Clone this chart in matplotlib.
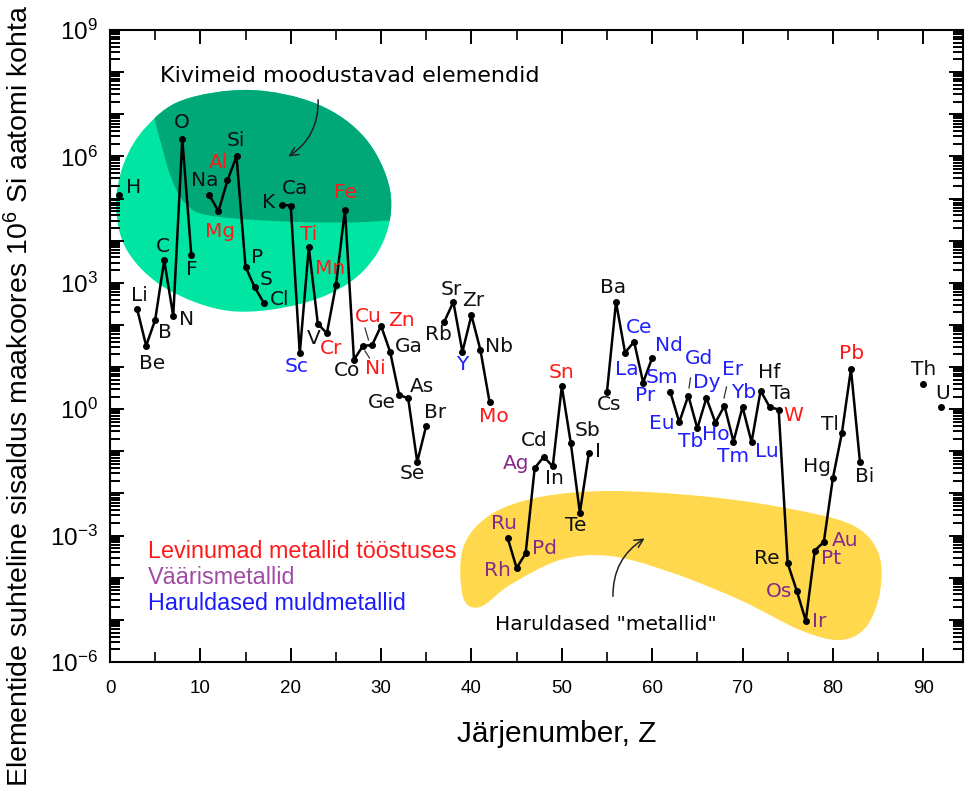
import matplotlib
matplotlib.use("Agg")
import matplotlib.pyplot as plt
import numpy as np
import pandas as pd
from matplotlib.lines import Line2D
from matplotlib.patches import FancyArrowPatch, PathPatch
from matplotlib.path import Path
from matplotlib.ticker import FixedLocator, FuncFormatter, MultipleLocator, NullFormatter

plt.rcParams["mathtext.fontset"] = "custom"
plt.rcParams["mathtext.rm"] = "Liberation Sans"
plt.rcParams["mathtext.it"] = "Liberation Sans:italic"
plt.rcParams["mathtext.bf"] = "Liberation Sans:bold"

# Andmed: järjenumber, sümbol, sisaldus (aatomit 10^6 Si kohta)
z_numbers = [1, 3, 4, 5, 6, 7, 8, 9, 11, 12, 13, 14, 15, 16, 17,
             19, 20, 21, 22, 23, 24, 25, 26, 27, 28, 29, 30, 31, 32, 33, 34, 35,
             37, 38, 39, 40, 41, 42, 44, 45, 46, 47, 48, 49, 50, 51, 52, 53,
             55, 56, 57, 58, 59, 60, 62, 63, 64, 65, 66, 67, 68, 69, 70, 71,
             72, 73, 74, 75, 76, 77, 78, 79, 80, 81, 82, 83, 90, 92]
symbols = ["H", "Li", "Be", "B", "C", "N", "O", "F", "Na", "Mg", "Al", "Si", "P", "S", "Cl",
           "K", "Ca", "Sc", "Ti", "V", "Cr", "Mn", "Fe", "Co", "Ni", "Cu", "Zn", "Ga", "Ge", "As", "Se", "Br",
           "Rb", "Sr", "Y", "Zr", "Nb", "Mo", "Ru", "Rh", "Pd", "Ag", "Cd", "In", "Sn", "Sb", "Te", "I",
           "Cs", "Ba", "La", "Ce", "Pr", "Nd", "Sm", "Eu", "Gd", "Tb", "Dy", "Ho", "Er", "Tm", "Yb", "Lu",
           "Hf", "Ta", "W", "Re", "Os", "Ir", "Pt", "Au", "Hg", "Tl", "Pb", "Bi", "Th", "U"]
abundance = [1.2e5, 240, 32, 132, 3400, 162, 2.6e6, 4500, 1.2e5, 5.0e4, 2.7e5, 1.0e6, 2400, 790, 340,
             7.1e4, 6.8e4, 21, 7000, 107, 63, 870, 5.4e4, 15, 32, 33, 95, 23, 2.2, 1.8, 0.056, 0.41,
             120, 350, 23, 170, 25, 1.5, 8.9e-4, 1.7e-4, 3.8e-4, 0.040, 0.074, 0.044, 3.5, 0.155, 3.5e-3, 0.093,
             2.6, 350, 22, 40, 4.3, 16.5, 2.6, 0.49, 2.1, 0.35, 1.85, 0.48, 1.2, 0.17, 1.13, 0.165,
             2.75, 1.13, 0.98, 2.2e-4, 4.9e-5, 9.5e-6, 4.4e-4, 7.1e-4, 0.023, 0.275, 8.9, 0.055, 3.9, 1.1]

industrial = ["Al", "Mg", "Ti", "Mn", "Fe", "Cr", "Cu", "Ni", "Zn", "Mo", "Sn", "W", "Pb"]
precious = ["Ru", "Rh", "Pd", "Ag", "Os", "Ir", "Pt", "Au"]
rare_earth = ["Sc", "Y", "La", "Ce", "Pr", "Nd", "Sm", "Eu", "Gd", "Tb", "Dy", "Ho", "Er", "Tm", "Yb", "Lu"]

# sildi nihe punktist pikslites (dx, dy allapoole)
label_offset = {
    "H": (15, -8), "Li": (2, -13), "Be": (6, 18), "B": (10, 13), "C": (-1, -14), "N": (13, 3),
    "O": (0, -16), "F": (0, 14), "Na": (-5, -15), "Mg": (2, 20), "Al": (-9, -18), "Si": (-1, -16),
    "P": (12, -9), "S": (11, -8), "Cl": (16, -3), "K": (-13, -2), "Ca": (4, -17), "Sc": (-3, 13),
    "Ti": (0, -13), "V": (-4, 15), "Cr": (4, 15), "Mn": (-6, -17), "Fe": (1, -17), "Co": (-7, 11),
    "Ni": (12, 23), "Cu": (-4, -29), "Zn": (20, -5), "Ga": (19, -5), "Ge": (-17, 8), "As": (14, -12),
    "Se": (-5, 12), "Br": (9, -13), "Rb": (-6, 13), "Sr": (-2, -13), "Y": (0, 13), "Zr": (2, -15),
    "Nb": (19, -4), "Mo": (4, 15), "Ru": (-4, -14), "Rh": (-19, 2), "Pd": (19, -5), "Ag": (-19, -5),
    "Cd": (-9, -16), "In": (2, 12), "Sn": (0, -14), "Sb": (17, -13), "Te": (-4, 13), "I": (9, -1),
    "Cs": (2, 13), "Ba": (-3, -15), "La": (2, 17), "Ce": (5, -14), "Pr": (2, 13), "Nd": (17, -12),
    "Sm": (-8, -14), "Eu": (-17, 1), "Gd": (11, -37), "Tb": (-7, 13), "Dy": (0, -15), "Ho": (0, 12),
    "Er": (8, -36), "Tm": (0, 15), "Yb": (1, -14), "Lu": (15, 9), "Hf": (9, -18), "Ta": (11, -13),
    "W": (15, 6), "Re": (-21, -5), "Os": (-18, 1), "Ir": (13, 1), "Pt": (16, 8), "Au": (21, -1),
    "Hg": (-16, -12), "Tl": (-12, -8), "Pb": (1, -16), "Bi": (5, 14), "Th": (0, -15), "U": (1, -14),
}

W, H = 966, 787


def fig_xy(x, y):
    # pildi pikslid -> joonise murdosa
    return x / W, 1 - y / H


def smooth_closed(points):
    pts = np.array([fig_xy(*p) for p in points])
    n = len(pts)
    verts = [pts[0]]
    codes = [Path.MOVETO]
    for i in range(n):
        p0, p1, p2, p3 = pts[i - 1], pts[i], pts[(i + 1) % n], pts[(i + 2) % n]
        verts += [p1 + (p2 - p0) / 6, p2 - (p3 - p1) / 6, p2]
        codes += [Path.CURVE4] * 3
    return Path(verts, codes)


df = pd.DataFrame({"Z": z_numbers, "Symbol": symbols, "Abundance": abundance})
line_df = df.set_index("Z").reindex(range(1, 93))

fig = plt.figure(figsize=(W / 100, H / 100), dpi=100)
ax = fig.add_axes([110 / W, 125 / H, 853 / W, 632 / H])
ax.set_yscale("log")
ax.set_xlim(0, 94.4)
ax.set_ylim(1e-6, 1e9)
ax.set_autoscale_on(False)

# kivimeid moodustavate elementide ala
green_pts = [(116, 207), (124, 163), (146, 127), (183, 100), (250, 90), (317, 104), (365, 138),
             (390, 190), (384, 240), (353, 280), (300, 304), (230, 311), (167, 289), (128, 252)]
green = PathPatch(smooth_closed(green_pts), transform=fig.transFigure, facecolor="#00e6a2",
                  edgecolor="none", zorder=1)
ax.add_patch(green)
dark_pts = [(150, 80), (153, 112), (162, 147), (172, 180), (186, 204), (212, 216), (300, 222),
            (380, 221), (410, 210), (420, 120), (400, 70)]
dark = PathPatch(smooth_closed(dark_pts), transform=fig.transFigure, facecolor="#00a878",
                 edgecolor="none", zorder=1.5)
ax.add_patch(dark)
dark.set_clip_path(green)

# haruldaste metallide ala
yellow_pts = [(463, 548), (490, 515), (540, 497), (610, 491), (700, 496), (780, 507), (850, 524),
              (878, 552), (880, 592), (866, 627), (840, 640), (800, 630), (740, 600), (670, 572),
              (610, 556), (560, 560), (510, 585), (480, 607), (463, 597)]
ax.add_patch(PathPatch(smooth_closed(yellow_pts), transform=fig.transFigure, facecolor="#ffd84d",
                       edgecolor="none", zorder=1))

ax.plot(line_df.index, line_df["Abundance"], color="black", lw=1.8, zorder=3)
ax.plot(df["Z"], df["Abundance"], "o", color="black", ms=4, zorder=4)

for _, row in df.iterrows():
    s = row["Symbol"]
    if s in industrial:
        c = "#ff1a1a"
    elif s in precious:
        c = "#862a8a"
    elif s in rare_earth:
        c = "#1f1fff"
    else:
        c = "#111111"
    dx, dy = label_offset[s]
    ax.annotate(s, (row["Z"], row["Abundance"]), xytext=(dx, -dy), textcoords="offset pixels",
                ha="center", va="center", fontsize=14.5, color=c, zorder=5)

# telgede jaotised
minor_y = [m * 10.0 ** e for e in range(-6, 9) for m in range(2, 10)]
ax.xaxis.set_major_locator(MultipleLocator(10))
ax.xaxis.set_minor_locator(MultipleLocator(5))
ax.yaxis.set_major_locator(FixedLocator(10.0 ** np.arange(-6, 10)))
ax.yaxis.set_minor_locator(FixedLocator(minor_y))
ax.yaxis.set_major_formatter(FuncFormatter(
    lambda v, p: r"$\mathdefault{10^{%d}}$" % round(np.log10(v)) if round(np.log10(v)) % 3 == 0 else ""))
ax.yaxis.set_minor_formatter(NullFormatter())
ax.xaxis.set_major_formatter(FuncFormatter(lambda v, p: "%d" % v if v <= 90 else ""))
ax.tick_params(which="both", direction="in", top=True, right=True)
ax.tick_params(which="major", length=10, width=1.4)
ax.tick_params(which="minor", length=7, width=1.2)
ax.tick_params(axis="x", labelsize=13.5, pad=13)
ax.tick_params(axis="y", labelsize=17.5, pad=9)
for sp in ax.spines.values():
    sp.set_linewidth(1.5)
# väikesed jaotised y-teljel mõlemal küljel
ytr = ax.get_yaxis_transform()
ax.plot(np.zeros(len(minor_y)), minor_y, transform=ytr, ls="none", marker=1, ms=7, mew=1.3,
        color="black", clip_on=False, zorder=6)
ax.plot(np.ones(len(minor_y)), minor_y, transform=ytr, ls="none", marker=0, ms=7, mew=1.3,
        color="black", clip_on=False, zorder=6)

# väikesed viitejooned
for (x0, y0), (x1, y1) in [((365, 328), (368.5, 340)), ((365, 351), (369.5, 358)),
                           ((689, 388), (690.5, 378)), ((724, 398), (726.5, 387))]:
    fig.add_artist(Line2D([x0 / W, x1 / W], [1 - y0 / H, 1 - y1 / H], color="#333333", lw=0.9))

for lab in ax.get_xticklabels() + ax.get_yticklabels():
    lab.set_family("Liberation Sans")

fig.text(*fig_xy(557, 734), "Järjenumber, Z", ha="center", va="center", fontsize=21.5,
         family="Liberation Sans")
fig.text(*fig_xy(20, 396), "Elementide suhteline sisaldus maakoores 10$^{6}$ Si aatomi kohta",
         ha="center", va="center", rotation=90, fontsize=20.5, family="Liberation Sans")

fig.text(*fig_xy(350, 76), "Kivimeid moodustavad elemendid", ha="center", va="center", fontsize=16)
fig.text(*fig_xy(606, 625), 'Haruldased "metallid"', ha="center", va="center", fontsize=14.5)

fig.add_artist(FancyArrowPatch(fig_xy(318, 97), fig_xy(286, 158), transform=fig.transFigure,
                               connectionstyle="arc3,rad=-0.3", arrowstyle="->,head_length=6,head_width=3",
                               color="#222222", lw=1.1, zorder=10))
fig.add_artist(FancyArrowPatch(fig_xy(613, 599), fig_xy(647, 537), transform=fig.transFigure,
                               connectionstyle="arc3,rad=-0.3", arrowstyle="->,head_length=6,head_width=3",
                               color="#222222", lw=1.1, zorder=10))

legend_items = [("Levinumad metallid tööstuses", "#ff1a1a"), ("Väärismetallid", "#a04aa6"),
                ("Haruldased muldmetallid", "#1a1aff")]
for i, (txt, col) in enumerate(legend_items):
    fig.text(*fig_xy(148, 552 + 26 * i), txt, ha="left", va="center", fontsize=16.8, color=col,
             family="Liberation Sans")

fig.savefig("out.png", dpi=100)
